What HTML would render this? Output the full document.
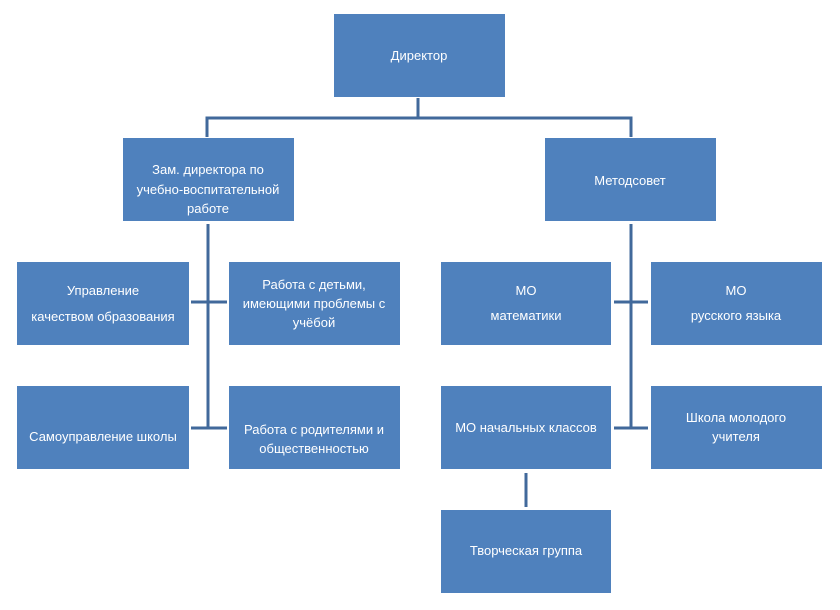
<!DOCTYPE html>
<html><head><meta charset="utf-8"><style>html,body{margin:0;padding:0;background:#fff}</style></head>
<body>
<svg width="840" height="605" xmlns="http://www.w3.org/2000/svg" font-family="Liberation Sans, DejaVu Sans, sans-serif" font-size="13" fill="#fff">
<g stroke="#41699b" stroke-width="3" fill="none">
<polyline points="418,98 418,118 207,118 207,137"/>
<polyline points="418,118 631,118 631,137"/>
<line x1="208" y1="224" x2="208" y2="428"/>
<line x1="191" y1="302" x2="227" y2="302"/>
<line x1="191" y1="428" x2="227" y2="428"/>
<line x1="631" y1="224" x2="631" y2="428"/>
<line x1="614" y1="302" x2="648" y2="302"/>
<line x1="614" y1="428" x2="648" y2="428"/>
<line x1="526" y1="473" x2="526" y2="507"/>
</g>
<g fill="#4f81bd">
<rect x="334" y="14" width="171" height="83"/>
<rect x="123" y="138" width="171" height="83"/>
<rect x="545" y="138" width="171" height="83"/>
<rect x="17" y="262" width="172" height="83"/>
<rect x="229" y="262" width="171" height="83"/>
<rect x="17" y="386" width="172" height="83"/>
<rect x="229" y="386" width="171" height="83"/>
<rect x="441" y="262" width="170" height="83"/>
<rect x="651" y="262" width="171" height="83"/>
<rect x="441" y="386" width="170" height="83"/>
<rect x="651" y="386" width="171" height="83"/>
<rect x="441" y="510" width="170" height="83"/>
</g>
<g text-anchor="middle">
<text x="419" y="60">Директор</text>
<text x="208" y="174">Зам. директора по</text>
<text x="208" y="194">учебно-воспитательной</text>
<text x="208" y="213">работе</text>
<text x="630" y="185">Методсовет</text>
<text x="103" y="295">Управление</text>
<text x="103" y="321">качеством образования</text>
<text x="314" y="289">Работа с детьми,</text>
<text x="314" y="308">имеющими проблемы с</text>
<text x="314" y="327">учёбой</text>
<text x="103" y="441">Самоуправление школы</text>
<text x="314" y="434">Работа с родителями и</text>
<text x="314" y="453">общественностью</text>
<text x="526" y="295">МО</text>
<text x="526" y="320">математики</text>
<text x="736" y="295">МО</text>
<text x="736" y="320">русского языка</text>
<text x="526" y="432">МО начальных классов</text>
<text x="736" y="422">Школа молодого</text>
<text x="736" y="441">учителя</text>
<text x="526" y="555">Творческая группа</text>
</g>
</svg>
</body></html>
